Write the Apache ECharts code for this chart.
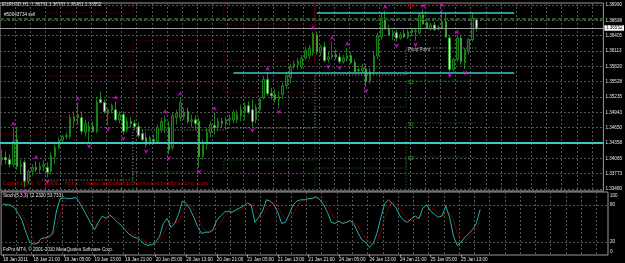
<!DOCTYPE html>
<html><head><meta charset="utf-8">
<script src="https://cdn.jsdelivr.net/npm/echarts@6/dist/echarts.min.js"></script>
<style>html,body{margin:0;padding:0;background:#000;}#c{width:625px;height:263px;}</style>
</head><body><div id="c"></div>
<script>
// ---------- data ----------
const priceTicks = [1.36990,1.36698,1.36405,1.36113,1.35820,1.35528,1.35235,1.34943,1.34650,1.34358,1.34065,1.33773,1.33480];
const stochTicks = [0,20,80,100];
const timeLabels = ['18 Jan 2011','18 Jan 21:00','19 Jan 05:00','19 Jan 13:00','19 Jan 21:00','20 Jan 05:00','20 Jan 13:00','20 Jan 21:00','21 Jan 05:00','21 Jan 13:00','21 Jan 21:00','24 Jan 05:00','24 Jan 13:00','24 Jan 21:00','25 Jan 05:00','25 Jan 13:00'];
const open = [1.3404,1.3408,1.3404,1.3395,1.3442,1.3391,1.3399,1.3363,1.3382,1.3389,
1.3385,1.3391,1.3389,1.3382,1.3410,1.3427,1.3441,1.3448,1.3448,1.3477,
1.3484,1.3484,1.3456,1.3458,1.3467,1.3458,1.3519,1.3513,1.3492,1.3499,
1.3499,1.3480,1.3490,1.3461,1.3477,1.3473,1.3467,1.3454,1.3446,1.3435,
1.3442,1.3439,1.3463,1.3477,1.3465,1.3427,1.3484,1.3484,1.3486,1.3496,
1.3477,1.3480,1.3477,1.3410,1.3433,1.3456,1.3469,1.3465,1.3477,1.3473,
1.3479,1.3480,1.3480,1.3488,1.3496,1.3507,1.3499,1.3480,1.3499,1.3522,
1.3557,1.3530,1.3528,1.3519,1.3528,1.3545,1.3560,1.3581,1.3585,1.3581,
1.3598,1.3602,1.3608,1.3642,1.3608,1.3619,1.3595,1.3600,1.3604,1.3600,
1.3591,1.3596,1.3602,1.3589,1.3574,1.3574,1.3577,1.3553,1.3572,1.3602,
1.3638,1.3674,1.3653,1.3640,1.3646,1.3636,1.3644,1.3638,1.3646,1.3648,
1.3646,1.3680,1.3665,1.3653,1.3661,1.3653,1.3655,1.3667,1.3636,1.3576,
1.3595,1.3636,1.3589,1.3610,1.3633,1.36731];
const close = [1.3408,1.3404,1.3395,1.3439,1.3391,1.3395,1.3363,1.3382,1.3389,1.3385,
1.3391,1.3395,1.3380,1.3412,1.3427,1.3441,1.3448,1.3450,1.3484,1.3486,
1.3490,1.3458,1.3473,1.3467,1.3458,1.3513,1.3513,1.3496,1.3499,1.3507,
1.3480,1.3490,1.3458,1.3477,1.3473,1.3467,1.3450,1.3442,1.3433,1.3446,
1.3439,1.3465,1.3477,1.3480,1.3423,1.3488,1.3492,1.3513,1.3494,1.3477,
1.3480,1.3473,1.3410,1.3433,1.3456,1.3471,1.3465,1.3477,1.3473,1.3480,
1.3482,1.3494,1.3490,1.3499,1.3507,1.3494,1.3477,1.3503,1.3519,1.3557,
1.3530,1.3526,1.3519,1.3524,1.3545,1.3564,1.3581,1.3587,1.3591,1.3598,
1.3612,1.3617,1.3644,1.3610,1.3619,1.3593,1.3600,1.3604,1.3600,1.3591,
1.3598,1.3602,1.3589,1.3572,1.3576,1.3579,1.3553,1.3572,1.3602,1.3640,
1.3674,1.3653,1.3642,1.3646,1.3636,1.3642,1.3638,1.3648,1.3652,1.3650,
1.3680,1.3663,1.3655,1.3661,1.3652,1.3657,1.3667,1.3638,1.3576,1.3595,
1.3636,1.3591,1.3614,1.3633,1.3674,1.36552];
const low = [1.3393,1.3395,1.3389,1.3389,1.3385,1.3376,1.3351,1.3357,1.3374,1.3380,
1.3376,1.3382,1.3370,1.3376,1.3395,1.3423,1.3437,1.3442,1.3444,1.3467,
1.3471,1.3452,1.3448,1.3437,1.3456,1.3454,1.3511,1.3492,1.3469,1.3492,
1.3477,1.3473,1.3452,1.3456,1.3465,1.3461,1.3446,1.3439,1.3427,1.3431,
1.3433,1.3435,1.3456,1.3454,1.3414,1.3423,1.3471,1.3477,1.3480,1.3473,
1.3465,1.3461,1.3389,1.3404,1.3423,1.3446,1.3452,1.3458,1.3465,1.3461,
1.3469,1.3473,1.3473,1.3477,1.3480,1.3490,1.3467,1.3473,1.3492,1.3519,
1.3526,1.3519,1.3513,1.3503,1.3520,1.3538,1.3549,1.3576,1.3576,1.3577,
1.3595,1.3595,1.3602,1.3604,1.3602,1.3589,1.3589,1.3595,1.3595,1.3587,
1.3587,1.3591,1.3587,1.3570,1.3570,1.3570,1.3543,1.3549,1.3566,1.3595,
1.3633,1.3652,1.3640,1.3633,1.3629,1.3633,1.3636,1.3634,1.3640,1.3631,
1.3642,1.3661,1.3653,1.3650,1.3650,1.3650,1.3652,1.3636,1.3572,1.3572,
1.3591,1.3585,1.3577,1.3604,1.3629,1.36481];
const high = [1.3423,1.3420,1.3414,1.3465,1.3465,1.3404,1.3404,1.3385,1.3395,1.3401,
1.3399,1.3404,1.3399,1.3418,1.3433,1.3446,1.3452,1.3456,1.3490,1.3496,
1.3513,1.3496,1.3480,1.3477,1.3477,1.3524,1.3534,1.3519,1.3503,1.3511,
1.3515,1.3496,1.3496,1.3484,1.3484,1.3480,1.3475,1.3461,1.3456,1.3450,
1.3452,1.3471,1.3484,1.3488,1.3477,1.3494,1.3499,1.3522,1.3503,1.3503,
1.3490,1.3488,1.3484,1.3442,1.3465,1.3477,1.3494,1.3484,1.3484,1.3486,
1.3490,1.3499,1.3499,1.3509,1.3513,1.3515,1.3519,1.3509,1.3522,1.3564,
1.3570,1.3541,1.3538,1.3534,1.3551,1.3572,1.3587,1.3593,1.3598,1.3604,
1.3619,1.3623,1.3648,1.3648,1.3623,1.3629,1.3610,1.3629,1.3614,1.3608,
1.3604,1.3617,1.3610,1.3595,1.3583,1.3587,1.3587,1.3579,1.3610,1.3646,
1.3686,1.3688,1.3661,1.3652,1.3652,1.3648,1.3652,1.3652,1.3655,1.3655,
1.3686,1.3690,1.3670,1.3665,1.3667,1.3661,1.3691,1.3684,1.3642,1.3598,
1.3640,1.3640,1.3617,1.3636,1.3684,1.36731];
const stochMain = [81,80,79,75,66,55,36,20,17,18,26,27,29,34,70,90,91,90,90,92,
84,73,62,50,40,52,62,58,64,58,52,47,40,33,29,27,23,17,15,16,
20,29,50,58,44,50,65,86,82,73,60,45,34,36,36,40,55,62,68,70,
68,72,75,78,83,80,52,60,70,88,86,80,68,50,52,65,80,86,88,88,
90,90,93,88,80,68,52,50,54,50,52,55,48,35,24,20,12,18,35,60,
82,88,82,75,62,55,52,58,62,58,75,80,70,65,60,62,78,60,30,15,
20,28,34,40,50,72.232];
const stochSignal = [82,81,80,78,73.3,65.3,52.3,37,24.3,18.3,20.3,23.7,27.3,30,44.3,64.7,83.7,90.3,90.3,90.7,
88.7,83,73,61.7,50.7,47.3,51.3,57.3,61.3,60,58,52.3,46.3,40,34,29.7,26.3,22.3,18.3,16,
17,21.7,33,45.7,50.7,50.7,53,67,77.7,80.3,71.7,59.3,46.3,38.3,35.3,37.3,43.7,52.3,61.7,66.7,
68.7,70,71.7,75,78.7,80.3,71.7,64,60.7,72.7,81.3,84.7,78,66,56.7,55.7,65.7,77,84.7,87.3,
88.7,89.3,91,90.3,87,78.7,66.7,56.7,52,51.3,52,52.3,51.7,46,35.7,26.3,18.7,16.7,21.7,37.7,
59,76.7,84,81.7,73,64,56.3,55,57.3,59.3,65,71,75,71.7,65,62.3,66.7,66.7,56,35,
21.7,21,27.3,34,41.3,53.7331];
const upFractalBars = [3,9,20,30,43,47,56,70,82,87,91,101,111,116,120];
const downFractalBars = [6,12,23,28,32,38,44,52,66,73,86,89,96,104,109,118,122];
// daily pivot levels (days: 18,19,20,21,24,25 Jan), first bar of each day
const dayStarts = [0,11,35,59,83,107];
const pivotR3 = [null,1.36837,1.3715,1.36608,1.3720,1.3730];
const pivotR2 = [null,1.35635,1.36303,1.35922,1.3712,1.3720];
const pivotR1 = [1.34510,1.34853,1.35521,1.35311,1.3707,1.37010];
const pivotPP = [null,1.33651,1.34605,1.34643,1.35654,1.36170];
const pivotS1 = [null,1.3300,1.33804,1.34033,1.35044,1.35540];
const pivotS2 = [null,null,1.3290,1.3300,1.33880,1.34739];
const pivotS3 = [null,null,null,1.3280,1.3310,1.34090];
// horizontal objects
const cyanFullLevel = 1.34358;
const cyanSegments = [[83,135,1.36837],[61,135,1.35702]];
const orderLevel = 1.36723;
const bidPrice = 1.36552;

// ---------- layout helpers ----------
const N = 159;
const cats = Array.from({length:N},(_,i)=>String(i));
const vGrid = []; for (let v=3.5; v<N; v+=4) vGrid.push(v);
const lastBar = close.length-1;
function expand(levels){
  const out=[];
  for(let i=0;i<=lastBar;i++){
    let d=0; while(d+1<dayStarts.length && i>=dayStarts[d+1]) d++;
    out.push(levels[d]);
  }
  return out;
}
const FS = 4.6, TXT = '#e6e6e6', FONT = 'Liberation Sans';
const gridLine = {show:true, lineStyle:{color:'#555555', type:[2,2], width:1}};

function pivotSeries(levels, color, label, labelColor){
  const s = {type:'line', xAxisIndex:0, yAxisIndex:0, data:expand(levels), step:'middle',
    symbol:'none', connectNulls:false, silent:true, z:3,
    lineStyle:{color:color, width:1, type:[1,2]}};
  if(label){
    s.markPoint = {symbol:'rect', symbolSize:0.1, silent:true,
      data:[{coord:[dayStarts[5], levels[5]], itemStyle:{color:'rgba(0,0,0,0)'},
        label:{show:true, position:'right', distance:0, offset:[0,2], formatter:label,
          color:labelColor, fontSize:FS, fontFamily:FONT}}]};
  }
  return s;
}

const chart = echarts.init(document.getElementById('c'), null, {renderer:'canvas'});
const option = {
  animation:false,
  backgroundColor:'#000000',
  grid:[
    {left:0, right:17, top:3, height:188, show:true, borderColor:'#9a9a9a', borderWidth:1, backgroundColor:'transparent'},
    {left:0, right:17, top:192, height:63, show:true, borderColor:'#9a9a9a', borderWidth:1, backgroundColor:'transparent'}
  ],
  xAxis:[
    {type:'category', gridIndex:0, data:cats, boundaryGap:true, axisLine:{show:false}, axisTick:{show:false}, axisLabel:{show:false}, splitLine:{show:false}},
    {type:'category', gridIndex:1, data:cats, boundaryGap:true, axisLine:{show:false},
      axisTick:{show:true, alignWithLabel:true, length:2, lineStyle:{color:'#bbbbbb'}, interval:(i)=> i%8===0 && i/8<timeLabels.length},
      axisLabel:{show:true, interval:(i)=> i%8===0 && i/8<timeLabels.length, align:'left', margin:2, fontSize:FS, color:TXT, fontFamily:FONT,
        formatter:(v,i)=> timeLabels[Math.round(Number(v)/8)] || ''},
      splitLine:{show:false}},
    {type:'value', gridIndex:0, min:-0.5, max:N-0.5, position:'top', axisLine:{show:false}, axisLabel:{show:false},
      axisTick:{show:false, customValues:vGrid}, splitLine:gridLine},
    {type:'value', gridIndex:1, min:-0.5, max:N-0.5, position:'top', axisLine:{show:false}, axisLabel:{show:false},
      axisTick:{show:false, customValues:vGrid}, splitLine:gridLine}
  ],
  yAxis:[
    {type:'value', gridIndex:0, position:'right', min:1.334418, max:1.370282,
      axisLine:{show:false}, axisTick:{show:false, customValues:priceTicks},
      axisLabel:{customValues:priceTicks, formatter:(v)=>Number(v).toFixed(5), fontSize:FS, color:TXT, fontFamily:FONT, margin:2},
      splitLine:gridLine},
    {type:'value', gridIndex:1, position:'right', min:-0.5, max:100.5,
      axisLine:{show:false}, axisTick:{show:false, customValues:[20,80]},
      axisLabel:{customValues:stochTicks, fontSize:FS, color:TXT, fontFamily:FONT, margin:2,
        formatter:(v)=> v===100 ? '{t|100}' : (v===0 ? '{b|0}' : String(v)),
        rich:{t:{fontSize:FS, color:TXT, fontFamily:FONT, padding:[7,0,0,0]}, b:{fontSize:FS, color:TXT, fontFamily:FONT, padding:[0,0,5,0]}}},
      splitLine:gridLine}
  ],
  series:[
    pivotSeries(pivotR3,'#a00000'),
    pivotSeries(pivotR2,'#a00000'),
    pivotSeries(pivotR1,'#a00000','R1','#d00000'),
    pivotSeries(pivotPP,'#a0a0a0','Pivot Point','#c8c8c8'),
    pivotSeries(pivotS1,'#1c871c','S1','#2aa02a'),
    pivotSeries(pivotS2,'#1c871c','S2','#2aa02a'),
    pivotSeries(pivotS3,'#1c871c','S3','#2aa02a'),
    // horizontal line objects
    {type:'line', xAxisIndex:0, yAxisIndex:0, data:[null], symbol:'none', silent:true, z:3,
      markLine:{silent:true, symbol:['none','none'], animation:false, precision:5,
        data:[
          {yAxis:cyanFullLevel, lineStyle:{color:'#3cc8c0', width:2, type:'solid'}, label:{show:false}},
          ...cyanSegments.map(s=>[{coord:[s[0],s[2]], lineStyle:{color:'#3cc8c0', width:1.5, type:'solid'}, label:{show:false}},{coord:[s[1],s[2]]}]),
          {yAxis:orderLevel, lineStyle:{color:'#1d5e1d', width:2, type:[4,2]}, label:{show:false}},
          {yAxis:bidPrice, lineStyle:{color:'#9a9a9a', width:1, type:'solid'},
            label:{show:true, position:'end', distance:1, formatter:bidPrice.toFixed(5), backgroundColor:'#ffffff', color:'#000000', fontSize:FS, fontFamily:FONT, padding:[0.5,1.5,0,1.5]}}
        ]}},
    {type:'candlestick', xAxisIndex:0, yAxisIndex:0, z:4, barWidth:2,
      data: open.map((o,i)=>[o, close[i], low[i], high[i]]),
      itemStyle:{color:'#0a2e0a', color0:'#dcf5dc', borderColor:'#1c9a1c', borderColor0:'#2aa82a', borderWidth:0.8}},
    {type:'scatter', xAxisIndex:0, yAxisIndex:0, z:5, silent:true,
      symbol:'path://M5,0 L10,9 L5,6 L0,9 Z', symbolSize:[5,5], symbolOffset:[0,-4],
      itemStyle:{color:'#ff00ff'}, data: upFractalBars.map(i=>[i, high[i]])},
    {type:'scatter', xAxisIndex:0, yAxisIndex:0, z:5, silent:true,
      symbol:'path://M0,0 L5,3 L10,0 L5,9 Z', symbolSize:[5,5], symbolOffset:[0,4],
      itemStyle:{color:'#ff00ff'}, data: downFractalBars.map(i=>[i, low[i]])},
    {type:'line', xAxisIndex:1, yAxisIndex:1, data:stochSignal, symbol:'none', silent:true, z:3,
      lineStyle:{color:'#c80000', width:1, type:[1,1]}},
    {type:'line', xAxisIndex:1, yAxisIndex:1, data:stochMain, symbol:'none', silent:true, z:4,
      lineStyle:{color:'#20b2aa', width:1}}
  ],
  graphic:[
    {type:'text', left:2, top:2, style:{text:'EURUSD,H1  1.36731 1.36731 1.36481 1.36552', fill:TXT, fontSize:FS, fontFamily:FONT}},
    {type:'text', left:4, top:12.5, style:{text:'#50043734 sell', fill:TXT, fontSize:FS, fontFamily:FONT}},
    {type:'text', left:3, top:180, style:{text:'Copyright \u00a9 2009, http://www.automaticforexsystemtrading.com', fill:'#d00000', fontSize:5.7, fontFamily:'Liberation Mono'}},
    {type:'text', left:3, top:193.5, style:{text:'Stoch(5,3,3) 72.2320 53.7331', fill:TXT, fontSize:FS, fontFamily:FONT}},
    {type:'text', left:3, top:247.5, style:{text:'FxPro MT4, \u00a9 2001-2010 MetaQuotes Software Corp.', fill:TXT, fontSize:FS, fontFamily:FONT}}
  ]
};
chart.setOption(option);
</script></body></html>
